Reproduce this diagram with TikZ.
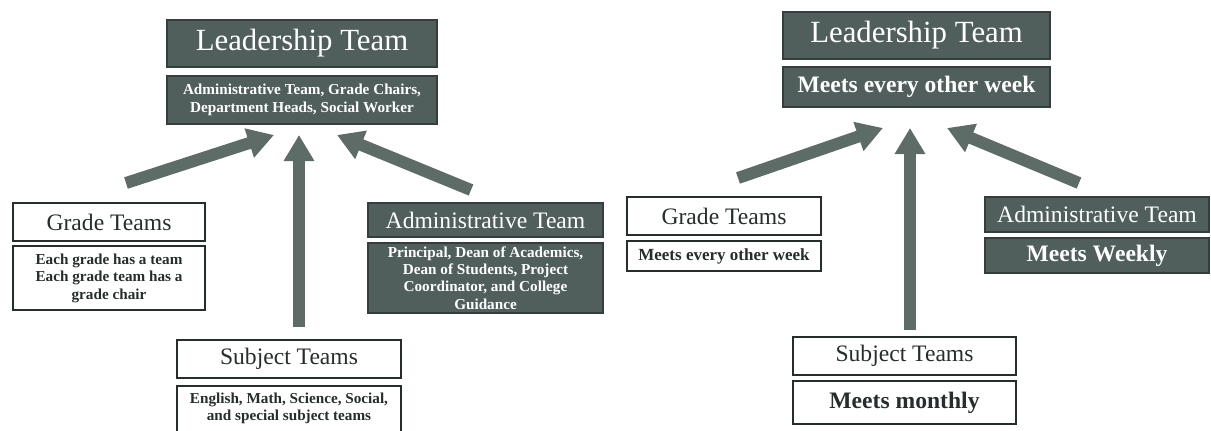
\documentclass[tikz,border=0pt]{standalone}
\usepackage{fontspec}
\setmainfont{Liberation Serif}
\usetikzlibrary{arrows.meta}
\definecolor{boxgrey}{RGB}{80,95,92}
\definecolor{arrowgrey}{RGB}{94,108,104}
\definecolor{edgegrey}{RGB}{52,62,60}
\definecolor{inkgrey}{RGB}{38,46,45}
\newcommand{\titlesize}{\fontsize{15.4}{18}\selectfont}
\newcommand{\headsize}{\fontsize{11.8}{14}\selectfont}
\newcommand{\notesize}{\fontsize{7.6}{8.7}\selectfont\bfseries}
\newcommand{\meetsize}{\fontsize{11.8}{14}\selectfont\bfseries}

\begin{document}
\begin{tikzpicture}[x=0.5pt, y=-0.5pt,
  darkbox/.style={draw=edgegrey, fill=boxgrey, text=white, inner sep=0pt, line width=0.6pt},
  whitebox/.style={draw=inkgrey, fill=white, text=inkgrey, inner sep=0pt, line width=1.2pt},
  uparrow/.style={draw=arrowgrey, line width=6pt, -{Triangle[length=13pt,width=14.5pt]}}]
  \useasboundingbox (0,0) rectangle (1211,430);

  % left: who sits on each team
  \node[darkbox, minimum width=135pt, minimum height=23.5pt, font=\titlesize]
    (lead left) at (302,43.5) {Leadership Team};
  \node[darkbox, minimum width=135pt, minimum height=24pt, font=\notesize, align=center]
    (lead left note) at (302,100) {Administrative Team, Grade Chairs,\\Department Heads, Social Worker};
  \node[whitebox, minimum width=96pt, minimum height=19pt, font=\headsize]
    (grade left) at (109,222) {Grade Teams};
  \node[whitebox, minimum width=96pt, minimum height=32pt, font=\notesize, align=center]
    (grade left note) at (109,278) {Each grade has a team\\Each grade team has a\\grade chair};
  \node[darkbox, minimum width=117.5pt, minimum height=17pt, font=\headsize]
    (admin left) at (485.5,220) {Administrative Team};
  \node[darkbox, minimum width=117.5pt, minimum height=35pt, font=\notesize, align=center]
    (admin left note) at (485.5,278) {Principal, Dean of Academics,\\Dean of Students, Project\\Coordinator, and College\\Guidance};
  \node[whitebox, minimum width=112pt, minimum height=19pt, font=\headsize]
    (subject left) at (289,359) {Subject Teams};
  \node[whitebox, minimum width=112pt, minimum height=30pt, font=\notesize, align=center, anchor=north]
    (subject left note) at (289,385) {English, Math, Science, Social,\\and special subject teams\\[1pt]};

  % left arrows
  \coordinate (grade left tail) at (126,183);
  \coordinate (grade left tip) at (274,135);
  \coordinate (subject left tail) at (299,327);
  \coordinate (subject left tip) at (299,135);
  \coordinate (admin left tail) at (471,190);
  \coordinate (admin left tip) at (337,135);
  \draw[uparrow] (grade left tail) -- (grade left tip);
  \draw[uparrow] (subject left tail) -- (subject left tip);
  \draw[uparrow] (admin left tail) -- (admin left tip);

  % right: how often each team meets
  \node[darkbox, minimum width=133.5pt, minimum height=23.5pt, font=\titlesize]
    (lead right) at (916.5,35.5) {Leadership Team};
  \node[darkbox, minimum width=133.5pt, minimum height=20pt, font=\meetsize]
    (lead right note) at (916.5,87) {Meets every other week};
  \node[whitebox, minimum width=97pt, minimum height=19pt, font=\headsize]
    (grade right) at (724,216) {Grade Teams};
  \node[whitebox, minimum width=97pt, minimum height=15pt, font=\fontsize{8.5}{10}\selectfont\bfseries]
    (grade right note) at (724,256) {Meets every other week};
  \node[darkbox, minimum width=112pt, minimum height=17.5pt, font=\headsize]
    (admin right) at (1097,214.5) {Administrative Team};
  \node[darkbox, minimum width=112pt, minimum height=17.5pt, font=\meetsize]
    (admin right note) at (1097,255.5) {Meets Weekly};
  \node[whitebox, minimum width=111.5pt, minimum height=19pt, font=\headsize]
    (subject right) at (904.5,356) {Subject Teams};
  \node[whitebox, minimum width=111.5pt, minimum height=21.5pt, font=\meetsize]
    (subject right note) at (904.5,402.5) {Meets monthly};

  % right arrows
  \coordinate (grade right tail) at (738,178);
  \coordinate (grade right tip) at (883,128);
  \coordinate (subject right tail) at (910,330);
  \coordinate (subject right tip) at (910,128);
  \coordinate (admin right tail) at (1079,183);
  \coordinate (admin right tip) at (947,128);
  \draw[uparrow] (grade right tail) -- (grade right tip);
  \draw[uparrow] (subject right tail) -- (subject right tip);
  \draw[uparrow] (admin right tail) -- (admin right tip);
\end{tikzpicture}
\end{document}
